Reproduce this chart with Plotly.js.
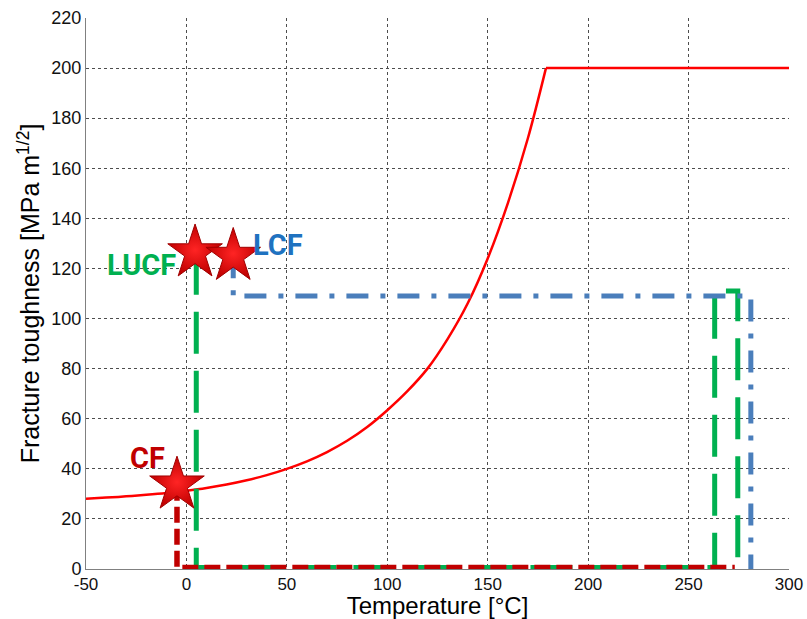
<!DOCTYPE html>
<html>
<head>
<meta charset="utf-8">
<script src="https://cdn.plot.ly/plotly-3.0.1.min.js"></script>
<style>html,body{margin:0;padding:0;background:#fff;}#chart{width:807px;height:619px;}</style>
</head>
<body>
<div id="chart"></div>
<script>
// Master curve: fracture toughness vs temperature (rising part, then upper shelf)
const curveT = [-50, -40, -30, -20, -10, 0, 10, 20, 30, 40, 50, 60, 70, 80, 90, 100, 110, 120, 130, 140, 150, 160, 170, 179];
const curveK = [28.0, 28.5, 29.0, 29.6, 30.3, 31.2, 32.3, 33.7, 35.4, 37.5, 40.0, 43.0, 46.7, 51.2, 56.7, 63.4, 71.0, 80.0, 91.8, 106.0, 124.0, 146.0, 172.0, 200];
const shelfT = [179, 300];
const shelfK = [200, 200];

// LUCF path (green dashed)
const lucfT = [4.9, 4.9, 263, 263, 274.5, 274.5];
const lucfK = [126.3, 0.6, 0.6, 111, 111, 0.6];

// LCF path (blue dash-dot)
const lcfT = [23.3, 23.3, 281, 281];
const lcfK = [124.9, 109, 109, 0];

// CF path (red dashed)
const cfT = [-4.7, -4.7, 273];
const cfK = [33.6, 0.6, 0.6];

// Star markers
const starT = [-4.7, 4.3, 23.3];
const starK = [33.6, 126.3, 124.9];

// Labels
const labelText = ['LUCF', 'LCF', 'CF'];
const labelT = [-22.6, 45.5, -19.3];
const labelK = [121.4, 129.5, 44.2];
const labelColor = ['#00b050', '#1f72c0', '#c00000'];

const xTicks = [-50, 0, 50, 100, 150, 200, 250, 300];
const yTicks = [0, 20, 40, 60, 80, 100, 120, 140, 160, 180, 200, 220];

const traces = [
  {x: curveT, y: curveK, mode: 'lines', line: {color: '#ff0000', width: 2.5, shape: 'spline', smoothing: 1}, showlegend: false},
  {x: shelfT, y: shelfK, mode: 'lines', line: {color: '#ff0000', width: 2.5}, showlegend: false},
  {x: lucfT, y: lucfK, mode: 'lines', line: {color: '#00b050', width: 5, dash: '42px,17px'}, showlegend: false},
  {x: lcfT, y: lcfK, mode: 'lines', line: {color: '#4a7ebb', width: 5, dash: '22px,12px,5px,12px'}, showlegend: false},
  {x: cfT, y: cfK, mode: 'lines', line: {color: '#c00000', width: 5.5, dash: '16px,6px'}, showlegend: false},
  {x: starT, y: starK, mode: 'markers', cliponaxis: false,
   marker: {symbol: 'star', size: 41, color: '#c00000', line: {color: '#a00000', width: 1},
            gradient: {type: 'radial', color: '#ff2424'}}, showlegend: false}
];

const annotations = labelText.map((t, i) => ({
  x: labelT[i], y: labelK[i], xref: 'x', yref: 'y', text: '<b>' + t + '</b>', showarrow: false,
  font: {family: 'Liberation Sans Narrow, Roboto, Liberation Sans, sans-serif', size: 29, color: labelColor[i]}
}));

const layout = {
  width: 807, height: 619,
  margin: {l: 86, r: 18, t: 18, b: 50},
  paper_bgcolor: '#ffffff', plot_bgcolor: '#ffffff',
  font: {family: 'Liberation Sans, Arial, sans-serif', color: '#000'},
  xaxis: {
    range: [-50, 300], tickvals: xTicks, ticktext: xTicks.map(String),
    showgrid: true, gridcolor: '#4d4d4d', griddash: 'dot', gridwidth: 1,
    showline: true, linecolor: '#808080', linewidth: 1, zeroline: false,
    ticks: '', tickfont: {size: 17, color: '#111'},
    title: {text: 'Temperature [°C]', font: {size: 24, color: '#000'}, standoff: 4}
  },
  yaxis: {
    range: [0, 220], tickvals: yTicks, ticktext: yTicks.map(String),
    showgrid: true, gridcolor: '#4d4d4d', griddash: 'dot', gridwidth: 1,
    showline: true, linecolor: '#808080', linewidth: 1, zeroline: false,
    ticks: '', tickfont: {size: 18, color: '#111'},
    title: {text: 'Fracture toughness [MPa m<sup>1/2</sup>]', font: {size: 25, color: '#000'}, standoff: 4}
  },
  annotations: annotations,
  showlegend: false
};

Plotly.newPlot('chart', traces, layout, {staticPlot: true, displayModeBar: false});
</script>
</body>
</html>
